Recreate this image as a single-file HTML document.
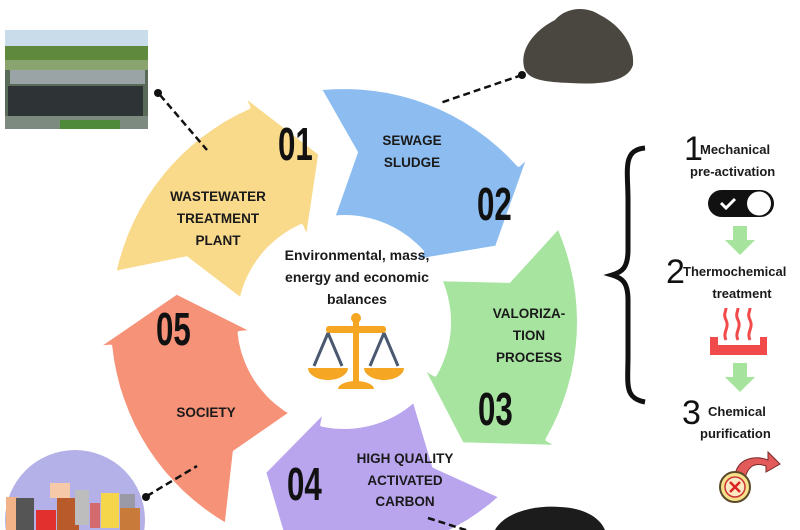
<!DOCTYPE html>
<html><head><meta charset="utf-8"><style>
html,body{margin:0;padding:0;background:#fff;width:800px;height:530px;overflow:hidden}
svg{display:block}
svg text{font-family:"Liberation Sans",sans-serif;font-weight:bold}
.num{font-family:"Liberation Sans",sans-serif;font-weight:bold;font-size:46px;fill:#111}
.lab{font-size:13.5px;fill:#1a1a1a;text-anchor:middle}
.rt{font-size:13px;fill:#1a1a1a}
</style></head><body>
<svg id="s" width="800" height="530" viewBox="0 0 800 530" xmlns="http://www.w3.org/2000/svg">
<defs><clipPath id="c"><rect width="800" height="530"/></clipPath></defs>
<g clip-path="url(#c)">
<rect x="5" y="30" width="143" height="99" fill="#5a6a58"/>
<rect x="5" y="30" width="143" height="16" fill="#c9dcea"/>
<rect x="5" y="46" width="143" height="14" fill="#5f8a3e"/>
<rect x="5" y="60" width="143" height="10" fill="#8aa470"/>
<rect x="10" y="70" width="135" height="14" fill="#9aa3a6"/>
<rect x="8" y="86" width="135" height="30" fill="#2e3436"/>
<rect x="5" y="116" width="143" height="13" fill="#7d8a7f"/>
<rect x="60" y="120" width="60" height="9" fill="#4f8a3a"/>
<path d="M525 70 C518 50 535 30 555 20 C565 8 585 5 600 15 C620 25 635 45 633 65 C628 82 600 85 570 83 C545 82 530 80 525 70Z" fill="#4a4640"/>
<path d="M495 530 C505 512 535 505 560 507 C585 508 600 518 605 530Z" fill="#1c1c1c"/>
<circle cx="75" cy="520" r="70" fill="#b3b1e8"/>
<rect x="6" y="497" width="12" height="40" fill="#f3b389"/>
<rect x="16" y="498" width="18" height="40" fill="#555"/>
<rect x="36" y="510" width="20" height="25" fill="#e2302e"/>
<rect x="57" y="498" width="22" height="35" fill="#b85a2a"/>
<rect x="50" y="483" width="20" height="15" fill="#f6c9a8"/>
<rect x="75" y="490" width="14" height="35" fill="#bdbdbd"/>
<rect x="90" y="503" width="10" height="25" fill="#d56a6e"/>
<rect x="101" y="493" width="18" height="35" fill="#f5d54a"/>
<rect x="120" y="494" width="15" height="35" fill="#9a9aa6"/>
<rect x="120" y="508" width="20" height="25" fill="#c77a3a"/>
<g id="ring"></g>
<g stroke="#111" stroke-width="2.5" stroke-dasharray="7,4" fill="none">
<line x1="160" y1="95" x2="207" y2="150"/>
<line x1="522" y1="75" x2="440" y2="103"/>
<line x1="147" y1="496" x2="197" y2="466"/>
<line x1="428" y1="518" x2="472" y2="532"/>
</g>
<circle cx="158" cy="93" r="4" fill="#111"/>
<circle cx="522" cy="75" r="4" fill="#111"/>
<circle cx="146" cy="497" r="4" fill="#111"/>
<text class="num" transform="translate(278,160) scale(0.68,1)">01</text>
<text class="num" transform="translate(477,220) scale(0.68,1)">02</text>
<text class="num" transform="translate(478,425) scale(0.68,1)">03</text>
<text class="num" transform="translate(287,500) scale(0.68,1)">04</text>
<text class="num" transform="translate(156,345) scale(0.68,1)">05</text>
<text class="lab" x="412" y="145">SEWAGE</text>
<text class="lab" x="412" y="167">SLUDGE</text>
<text class="lab" x="218" y="201">WASTEWATER</text>
<text class="lab" x="218" y="223">TREATMENT</text>
<text class="lab" x="218" y="245">PLANT</text>
<text class="lab" x="529" y="318">VALORIZA-</text>
<text class="lab" x="529" y="340">TION</text>
<text class="lab" x="529" y="362">PROCESS</text>
<text class="lab" x="206" y="417">SOCIETY</text>
<text class="lab" x="405" y="463">HIGH QUALITY</text>
<text class="lab" x="405" y="485">ACTIVATED</text>
<text class="lab" x="405" y="506">CARBON</text>
<text class="lab" x="357" y="260" style="font-size:14px">Environmental, mass,</text>
<text class="lab" x="357" y="282" style="font-size:14px">energy and economic</text>
<text class="lab" x="357" y="304" style="font-size:14px">balances</text>
<g fill="#f5a623">
<circle cx="356" cy="318" r="5"/>
<rect x="353" y="320" width="6" height="65"/>
<rect x="326" y="326" width="60" height="7" rx="3"/>
<path d="M338 389 a18 8 0 0 1 36 0 z"/>
<path d="M308 368 h40 a20 12 0 0 1 -40 0z"/>
<path d="M364 368 h40 a20 12 0 0 1 -40 0z"/>
</g>
<g stroke="#4a5870" stroke-width="3"><line x1="328" y1="333" x2="314" y2="366"/><line x1="328" y1="333" x2="342" y2="366"/><line x1="384" y1="333" x2="370" y2="366"/><line x1="384" y1="333" x2="398" y2="366"/></g>
<path d="M645 148 C622 150 628 170 628 200 L628 250 C628 268 622 272 612 275 C622 278 628 282 628 300 L628 355 C628 385 624 398 645 402" fill="none" stroke="#111" stroke-width="5"/>
<text x="684" y="160" style="font-size:34px;font-weight:normal" fill="#111">1</text>
<text class="rt" x="700" y="154">Mechanical</text>
<text class="rt" x="690" y="176">pre-activation</text>
<rect x="708" y="190" width="66" height="27" rx="13.5" fill="#111"/>
<circle cx="759" cy="203.5" r="12" fill="#fff"/>
<path d="M721 203 l5 5 l9 -9" stroke="#fff" stroke-width="3" fill="none"/>
<path d="M733 226 h14 v14 h8 l-15 15 l-15 -15 h8z" fill="#a6e39c"/>
<text x="666" y="283" style="font-size:34px;font-weight:normal" fill="#111">2</text>
<text class="rt" x="683" y="276">Thermochemical</text>
<text class="rt" x="742" y="298" text-anchor="middle">treatment</text>
<g stroke="#f04a4a" stroke-width="3" fill="none"><path d="M726 340 c-4 -8 4 -12 0 -20 c-3 -6 0 -8 0 -12"/><path d="M738 340 c-4 -8 4 -12 0 -20 c-3 -6 0 -8 0 -12"/><path d="M750 340 c-4 -8 4 -12 0 -20 c-3 -6 0 -8 0 -12"/></g>
<path d="M710 337 h8 v8 h42 v-8 h7 v18 h-57z" fill="#f04a4a"/>
<path d="M733 363 h14 v14 h8 l-15 15 l-15 -15 h8z" fill="#a6e39c"/>
<text x="682" y="424" style="font-size:34px;font-weight:normal" fill="#111">3</text>
<text class="rt" x="708" y="416">Chemical</text>
<text class="rt" x="700" y="438">purification</text>
<path d="M735 475 C738 458 755 455 768 460 l0 -8 l12 12 l-14 8 l0 -6 C755 462 748 466 745 478z" fill="#e25a5a" stroke="#7a2a2a" stroke-width="1"/>
<circle cx="735" cy="487" r="15" fill="#f6e08a" stroke="#5a4a2a" stroke-width="2"/>
<circle cx="735" cy="487" r="10" fill="#fbe9c4" stroke="#c33" stroke-width="1.5"/>
<path d="M730 482 l10 10 M740 482 l-10 10" stroke="#d22" stroke-width="2.5"/>
</g>
</svg>
<script>
(function(){
var cx=344,cy=322;
function P(a,r){var t=a*Math.PI/180;return (cx+r*Math.sin(t)).toFixed(1)+","+(cy-r*Math.cos(t)).toFixed(1);}
function arc(a0,a1,r){var s="";var n=16;for(var i=1;i<=n;i++){var a=a0+(a1-a0)*i/n;s+=" L"+P(a,r);}return s;}
var cols=["#f9d98a","#8dbdf0","#a7e4a0","#b9a4ee","#f59277"];
var heads=[352,64,136,208,280];
var g=document.getElementById("ring"),h="";
var ri=105,ro=235,rm=170;
for(var k=0;k<5;k++){
 var T=heads[k],S=T-72+2,B=T-16;
 var d="M"+P(S,ro)+arc(S,B,ro)+" L"+P(B,250)+" L"+P(T,rm)+" L"+P(B,90)+" L"+P(B,ri)+arc(B,S,ri)+" L"+P(S+10,rm)+" Z";
 h+='<path d="'+d+'" fill="'+cols[k]+'" stroke="#fff" stroke-width="4" stroke-linejoin="round"/>';
}
g.innerHTML=h;
})();
</script>
</body></html>
